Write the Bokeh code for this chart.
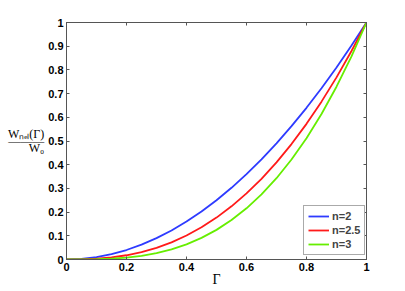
from bokeh.plotting import figure
from bokeh.models import LinearAxis, Range1d, FixedTicker, Legend, LegendItem
from bokeh.embed import file_html
from bokeh.resources import INLINE

gamma = [0, 0.05, 0.1, 0.15, 0.2, 0.25, 0.3, 0.35, 0.4, 0.45, 0.5,
         0.55, 0.6, 0.65, 0.7, 0.75, 0.8, 0.85, 0.9, 0.95, 1.0]
w_n2 = [0, 0.0025, 0.01, 0.0225, 0.04, 0.0625, 0.09, 0.1225, 0.16, 0.2025, 0.25,
        0.3025, 0.36, 0.4225, 0.49, 0.5625, 0.64, 0.7225, 0.81, 0.9025, 1.0]
w_n25 = [0, 0.00056, 0.00316, 0.00871, 0.01789, 0.03125, 0.0493, 0.0725, 0.1012, 0.1358, 0.1768,
         0.2243, 0.2789, 0.3406, 0.4100, 0.4871, 0.5724, 0.6661, 0.7684, 0.8797, 1.0]
w_n3 = [0, 0.000125, 0.001, 0.003375, 0.008, 0.015625, 0.027, 0.042875, 0.064, 0.091125, 0.125,
        0.166375, 0.216, 0.274625, 0.343, 0.421875, 0.512, 0.614125, 0.729, 0.857375, 1.0]
series_names = ["n=2", "n=2.5", "n=3"]
series_colors = ["#2e3bff", "#ff1a1a", "#66ee00"]
x_ticks = [0, 0.2, 0.4, 0.6, 0.8, 1.0]
x_tick_labels = ["0", "0.2", "0.4", "0.6", "0.8", "1"]
y_ticks = [0, 0.1, 0.2, 0.3, 0.4, 0.5, 0.6, 0.7, 0.8, 0.9, 1.0]
y_tick_labels = ["0", "0.1", "0.2", "0.3", "0.4", "0.5", "0.6", "0.7", "0.8", "0.9", "1"]
x_label = "Γ"
y_label = "Wₙₑₗ(Γ)\n―――\nW₀"

p = figure(width=405, height=291, output_backend="svg", toolbar_location=None,
           x_range=Range1d(0, 1), y_range=Range1d(0, 1),
           min_border_left=66, min_border_right=39, min_border_top=22, min_border_bottom=32,
           x_axis_location=None, y_axis_location=None)
p.grid.visible = False
p.outline_line_color = "#555555"
p.outline_line_width = 1

axis_color = "#555555"
def style_axis(ax, ticks, labels, show_labels):
    ax.ticker = FixedTicker(ticks=ticks)
    if show_labels:
        ax.major_label_overrides = {t: l for t, l in zip(ticks, labels)}
    else:
        ax.major_label_overrides = {t: "" for t in ticks}
    ax.axis_line_color = axis_color
    ax.major_tick_line_color = axis_color
    ax.major_tick_in = 3
    ax.major_tick_out = 0
    ax.minor_tick_line_color = None
    ax.major_label_standoff = 3
    ax.major_label_text_font = "Liberation Sans"
    ax.major_label_text_font_style = "bold"
    ax.major_label_text_font_size = "11px"
    ax.major_label_text_color = "#000000"

xb = LinearAxis(); style_axis(xb, x_ticks, x_tick_labels, True)
yl = LinearAxis(); style_axis(yl, y_ticks, y_tick_labels, True)
xa = LinearAxis(); style_axis(xa, x_ticks, x_tick_labels, False)
yr = LinearAxis(); style_axis(yr, y_ticks, y_tick_labels, False)

xb.axis_label = x_label
xb.axis_label_text_font = "Liberation Serif"
xb.axis_label_text_font_style = "normal"
xb.axis_label_text_font_size = "14px"
xb.axis_label_text_color = "#000000"
xb.axis_label_standoff = -2

yl.axis_label = y_label
yl.axis_label_orientation = "horizontal"
yl.axis_label_text_font = "Liberation Serif"
yl.axis_label_text_font_style = "normal"
yl.axis_label_text_font_size = "12px"
yl.axis_label_text_color = "#000000"
yl.axis_label_text_line_height = 0.5
yl.axis_label_text_align = "center"
yl.axis_label_standoff = 1

p.add_layout(xb, "below")
p.add_layout(yl, "left")
p.add_layout(xa, "above")
p.add_layout(yr, "right")

items = []
for ys, name, col in zip([w_n2, w_n25, w_n3], series_names, series_colors):
    r = p.line(gamma, ys, line_color=col, line_width=1.8)
    items.append(LegendItem(label=name, renderers=[r]))

leg = Legend(items=items, location=(237, 4), padding=4, spacing=2, margin=0,
             label_standoff=3, glyph_width=21, glyph_height=12, label_height=12,
             label_text_font="Liberation Sans", label_text_font_style="bold",
             label_text_font_size="11px", border_line_color="#555555",
             background_fill_color="white", background_fill_alpha=1)
p.add_layout(leg)

open("out.html", "w").write(file_html(p, INLINE))
